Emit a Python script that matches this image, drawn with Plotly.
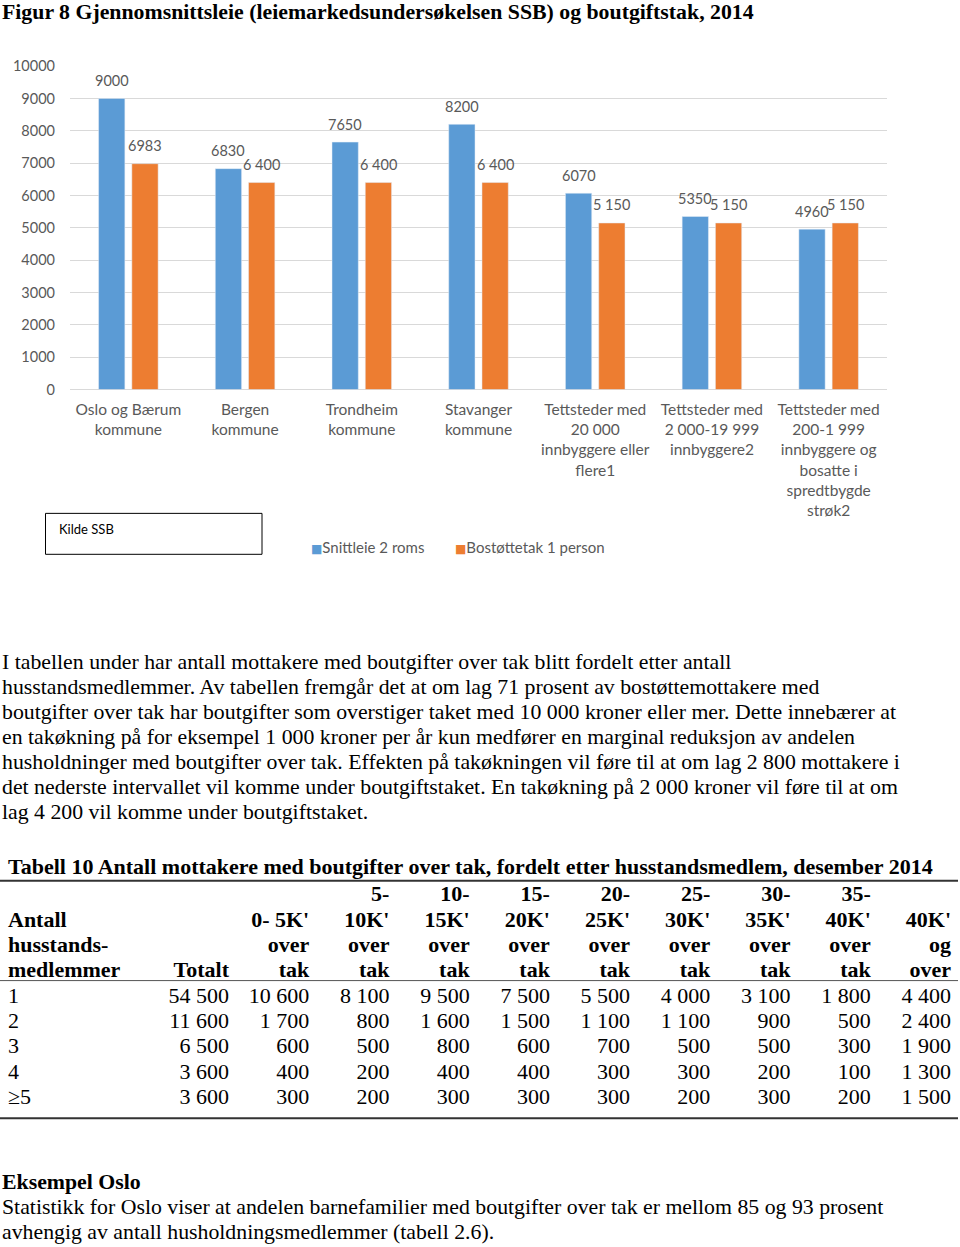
import plotly.graph_objects as go

W, H = 960, 1247

# ---------------- data ----------------
categories = [
    "Oslo og Bærum<br>kommune",
    "Bergen<br>kommune",
    "Trondheim<br>kommune",
    "Stavanger<br>kommune",
    "Tettsteder med<br>20 000<br>innbyggere eller<br>flere1",
    "Tettsteder med<br>2 000-19 999<br>innbyggere2",
    "Tettsteder med<br>200-1 999<br>innbyggere og<br>bosatte i<br>spredtbygde<br>strøk2",
]
snittleie = [9000, 6830, 7650, 8200, 6070, 5350, 4960]
snittleie_labels = ["9000", "6830", "7650", "8200", "6070", "5350", "4960"]
bostottetak = [6983, 6400, 6400, 6400, 5150, 5150, 5150]
bostottetak_labels = ["6983", "6 400", "6 400", "6 400", "5 150", "5 150", "5 150"]
series_names = ["Snittleie 2 roms", "Bostøttetak 1 person"]
y_ticks = list(range(0, 10001, 1000))
y_tick_labels = [str(v) for v in y_ticks]

title_text = "Figur 8 Gjennomsnittsleie (leiemarkedsundersøkelsen SSB) og boutgiftstak, 2014"
source_text = "Kilde SSB"

paragraph_lines = [
    "I tabellen under har antall mottakere med boutgifter over tak blitt fordelt etter antall",
    "husstandsmedlemmer. Av tabellen fremgår det at om lag 71 prosent av bostøttemottakere med",
    "boutgifter over tak har boutgifter som overstiger taket med 10 000 kroner eller mer. Dette innebærer at",
    "en takøkning på for eksempel 1 000 kroner per år kun medfører en marginal reduksjon av andelen",
    "husholdninger med boutgifter over tak. Effekten på takøkningen vil føre til at om lag 2 800 mottakere i",
    "det nederste intervallet vil komme under boutgiftstaket. En takøkning på 2 000 kroner vil føre til at om",
    "lag 4 200 vil komme under boutgiftstaket.",
]

table_title = "Tabell 10 Antall mottakere med boutgifter over tak, fordelt etter husstandsmedlem, desember 2014"
row_header = ["", "Antall", "husstands-", "medlemmer"]
col_headers = [
    ["", "", "", "Totalt"],
    ["", "0- 5K'", "over", "tak"],
    ["5-", "10K'", "over", "tak"],
    ["10-", "15K'", "over", "tak"],
    ["15-", "20K'", "over", "tak"],
    ["20-", "25K'", "over", "tak"],
    ["25-", "30K'", "over", "tak"],
    ["30-", "35K'", "over", "tak"],
    ["35-", "40K'", "over", "tak"],
    ["", "40K'", "og", "over"],
]
row_labels = ["1", "2", "3", "4", "≥5"]
table_values = [
    [54500, 10600, 8100, 9500, 7500, 5500, 4000, 3100, 1800, 4400],
    [11600, 1700, 800, 1600, 1500, 1100, 1100, 900, 500, 2400],
    [6500, 600, 500, 800, 600, 700, 500, 500, 300, 1900],
    [3600, 400, 200, 400, 400, 300, 300, 200, 100, 1300],
    [3600, 300, 200, 300, 300, 300, 200, 300, 200, 1500],
]

example_title = "Eksempel Oslo"
example_lines = [
    "Statistikk for Oslo viser at andelen barnefamilier med boutgifter over tak er mellom 85 og 93 prosent",
    "avhengig av antall husholdningsmedlemmer (tabell 2.6).",
]

# ---------------- styles ----------------
BLUE = "#5B9BD5"
ORANGE = "#ED7D31"
GRAY = "#595959"
GRID = "#D9D9D9"
SANS = "Lato"
SERIF = "Liberation Serif"
TEXT_SIZE = 21.8
TABLE_SIZE = 22

# the page is photographed with a small vertical offset/compression; compensate
V_OFF, V_SCALE = 7.8, 0.988


def py(px):
    return 1 - ((px - V_OFF) / V_SCALE) / H


def px_x(px):
    return px / W


fig = go.Figure()

fig.add_trace(go.Bar(x=categories, y=snittleie, name=series_names[0],
                     marker_color=BLUE, showlegend=False, hoverinfo="skip"))
fig.add_trace(go.Bar(x=categories, y=bostottetak, name=series_names[1],
                     marker_color=ORANGE, showlegend=False, hoverinfo="skip"))

annotations = []
# data labels above bars
cat_px = (887 - 70) / len(categories)
shift = cat_px * (1 - 0.43) / 4
for cat, v, lab in zip(categories, snittleie, snittleie_labels):
    annotations.append(dict(x=cat, y=v, xref="x", yref="y", text=lab, showarrow=False,
                            xshift=-shift, yshift=18, yanchor="middle",
                            font=dict(family=SANS, size=14.5, color=GRAY)))
for cat, v, lab in zip(categories, bostottetak, bostottetak_labels):
    annotations.append(dict(x=cat, y=v, xref="x", yref="y", text=lab, showarrow=False,
                            xshift=shift, yshift=18, yanchor="middle",
                            font=dict(family=SANS, size=14.5, color=GRAY)))

# title
annotations.append(dict(x=px_x(0), y=py(11), xref="paper", yref="paper", text="<b>" + title_text + "</b>",
                        showarrow=False, xanchor="left", yanchor="middle",
                        font=dict(family=SERIF, size=TEXT_SIZE, color="black")))

# legend (custom)
leg = [(BLUE, series_names[0], 309), (ORANGE, series_names[1], 453)]
for col, name, x0 in leg:
    annotations.append(dict(x=px_x(x0), y=py(547), xref="paper", yref="paper",
                            text="<span style='font-family:DejaVu Sans;font-size:12px;color:%s'>■</span>%s" % (col, name),
                            showarrow=False, xanchor="left", yanchor="middle",
                            font=dict(family=SANS, size=15, color=GRAY)))

# source box
annotations.append(dict(x=px_x(57), y=py(529), xref="paper", yref="paper", text=source_text,
                        showarrow=False, xanchor="left", yanchor="middle",
                        font=dict(family=SANS, size=13, color="black")))

# paragraph
for i, line in enumerate(paragraph_lines):
    annotations.append(dict(x=px_x(0), y=py(662 + 25 * i), xref="paper", yref="paper", text=line,
                            showarrow=False, xanchor="left", yanchor="middle",
                            font=dict(family=SERIF, size=TEXT_SIZE, color="black")))

# table title
annotations.append(dict(x=px_x(6), y=py(867), xref="paper", yref="paper", text="<b>" + table_title + "</b>",
                        showarrow=False, xanchor="left", yanchor="middle",
                        font=dict(family=SERIF, size=TABLE_SIZE, color="black")))

# example
annotations.append(dict(x=px_x(0), y=py(1183), xref="paper", yref="paper", text="<b>" + example_title + "</b>",
                        showarrow=False, xanchor="left", yanchor="middle",
                        font=dict(family=SERIF, size=TEXT_SIZE, color="black")))
for i, line in enumerate(example_lines):
    annotations.append(dict(x=px_x(0), y=py(1208 + 25 * i), xref="paper", yref="paper", text=line,
                            showarrow=False, xanchor="left", yanchor="middle",
                            font=dict(family=SERIF, size=TEXT_SIZE, color="black")))

# ---------------- table via secondary axes ----------------
def fmt(n):
    return "{:,}".format(n).replace(",", " ")

n_cols = len(col_headers)
col_step = (951 - 229) / (n_cols - 1)
label_x = (8 - 229) / col_step

tfont = dict(family=SERIF, size=TABLE_SIZE, color="black")

hx, hy, ht = [], [], []
for j, lines in enumerate(col_headers):
    for r, t in enumerate(lines):
        if t:
            hx.append(j); hy.append(r); ht.append("<b>" + t + "</b>")
fig.add_trace(go.Scatter(x=hx, y=hy, text=ht, mode="text", textposition="middle left",
                         xaxis="x2", yaxis="y2", cliponaxis=False, showlegend=False, hoverinfo="skip",
                         textfont=tfont))
rx, ry, rt = [], [], []
for r, t in enumerate(row_header):
    if t:
        rx.append(label_x); ry.append(r); rt.append("<b>" + t + "</b>")
fig.add_trace(go.Scatter(x=rx, y=ry, text=rt, mode="text", textposition="middle right",
                         xaxis="x2", yaxis="y2", cliponaxis=False, showlegend=False, hoverinfo="skip",
                         textfont=tfont))

n_head = len(row_header)
dx, dy, dt = [], [], []
for i, (lab, vals) in enumerate(zip(row_labels, table_values)):
    for j, v in enumerate(vals):
        dx.append(j); dy.append(n_head + i); dt.append(fmt(v))
fig.add_trace(go.Scatter(x=dx, y=dy, text=dt, mode="text", textposition="middle left",
                         xaxis="x2", yaxis="y2", cliponaxis=False, showlegend=False, hoverinfo="skip",
                         textfont=tfont))
fig.add_trace(go.Scatter(x=[label_x] * len(row_labels), y=[n_head + i for i in range(len(row_labels))],
                         text=row_labels, mode="text", textposition="middle right",
                         xaxis="x2", yaxis="y2", cliponaxis=False, showlegend=False, hoverinfo="skip",
                         textfont=tfont))

n_rows_total = n_head + len(row_labels) - 1

shapes = [
    dict(type="rect", xref="paper", yref="paper", x0=px_x(45.5), x1=px_x(262), y0=py(513), y1=py(554),
         line=dict(color="black", width=1)),
    dict(type="line", xref="paper", yref="paper", x0=0, x1=px_x(958), y0=py(881), y1=py(881),
         line=dict(color="#333333", width=2)),
    dict(type="line", xref="paper", yref="paper", x0=0, x1=px_x(958), y0=py(981), y1=py(981),
         line=dict(color="#555555", width=1)),
    dict(type="line", xref="paper", yref="paper", x0=0, x1=px_x(958), y0=py(1119), y1=py(1119),
         line=dict(color="#333333", width=2)),
]

fig.update_layout(
    autosize=True,
    margin=dict(l=0, r=0, t=0, b=0),
    paper_bgcolor="white", plot_bgcolor="white",
    barmode="group", bargap=0.43, bargroupgap=0.21,
    xaxis=dict(domain=[px_x(70), px_x(887)], type="category", showgrid=False, showline=False,
               ticks="", tickfont=dict(family=SANS, size=15.5, color=GRAY), ticklabelstandoff=9,
               tickangle=0),
    yaxis=dict(domain=[py(389), py(65)], range=[0, 10000], tickvals=y_ticks, ticktext=y_tick_labels,
               showgrid=True, gridcolor=GRID, gridwidth=1, zeroline=True, zerolinecolor=GRID,
               zerolinewidth=1, showline=False, ticks="",
               tickfont=dict(family=SANS, size=14.5, color=GRAY), ticklabelstandoff=14),
    xaxis2=dict(domain=[px_x(8), px_x(951)], range=[label_x, n_cols - 1], visible=False, anchor="y2"),
    yaxis2=dict(domain=[py(1099), py(896)], range=[n_rows_total, 0], visible=False, anchor="x2"),
    annotations=annotations,
    shapes=shapes,
)

# Pin the plot div to the page corner so browser body margins do not shift it.
fig.write_html(
    "out.html",
    config={"displayModeBar": False, "responsive": False},
    default_width="%dpx" % W,
    default_height="%dpx;position:absolute;top:0px;left:0px" % H,
)
